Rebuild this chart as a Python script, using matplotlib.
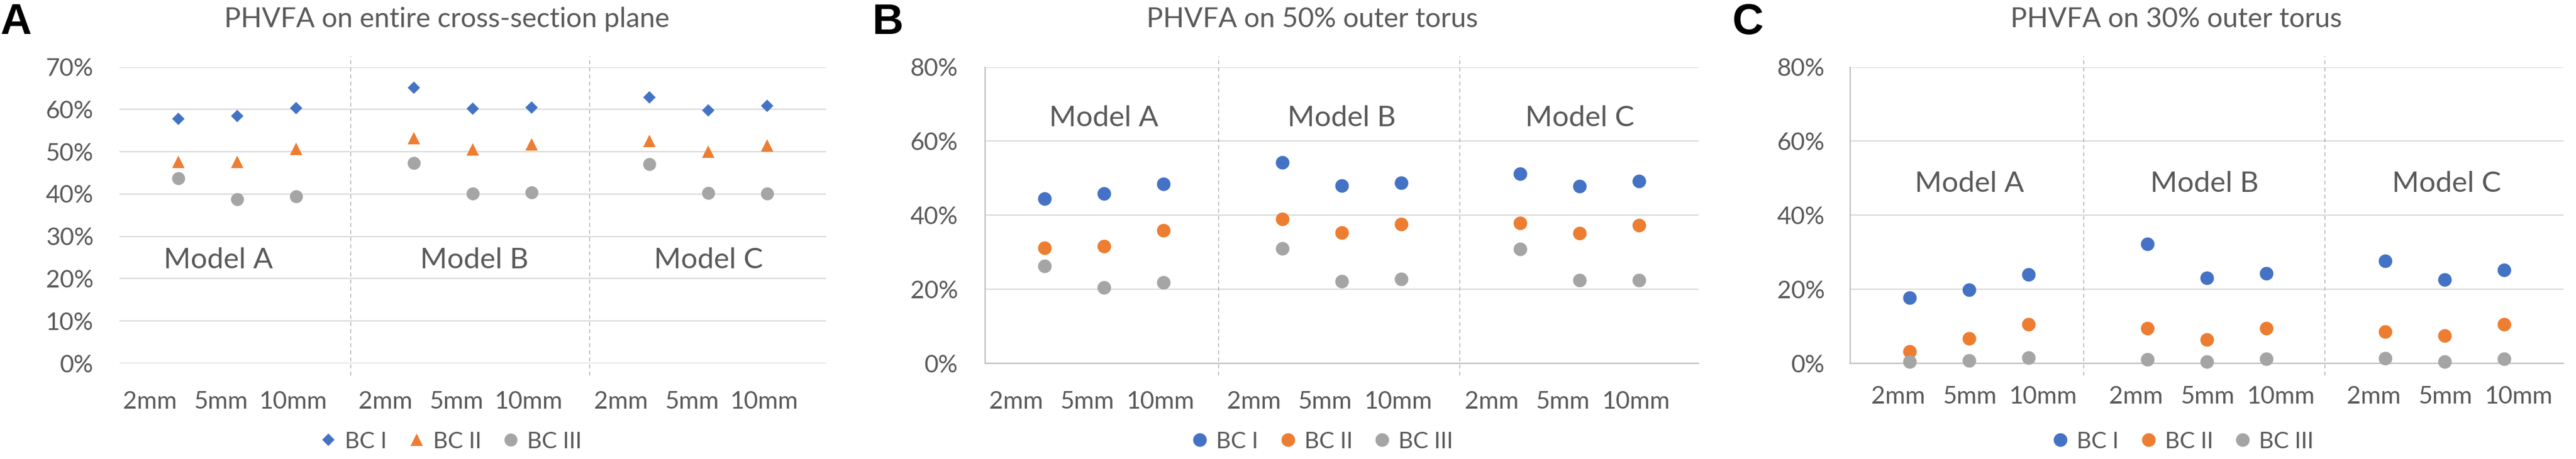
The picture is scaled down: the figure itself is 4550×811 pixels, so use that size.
import matplotlib
matplotlib.use('Agg')
import matplotlib.pyplot as plt
from matplotlib.lines import Line2D
import matplotlib.transforms as mtransforms

plt.rcParams['font.family'] = ['Lato', 'DejaVu Sans']

# ---------------- data ----------------
models = ['Model A', 'Model B', 'Model C']
sizes = ['2mm', '5mm', '10mm']
series_names = ['BC I', 'BC II', 'BC III']

panel_letters = ['A', 'B', 'C']
panel_titles = ['PHVFA on entire cross-section plane',
                'PHVFA on 50% outer torus',
                'PHVFA on 30% outer torus']

# values in %, order: Model A (2,5,10mm), Model B (2,5,10mm), Model C (2,5,10mm)
a_bc1 = [57.7, 58.4, 60.3, 65.1, 60.2, 60.5, 62.8, 59.8, 60.9]
a_bc2 = [47.6, 47.6, 50.7, 53.2, 50.5, 51.8, 52.6, 50.0, 51.5]
a_bc3 = [43.7, 38.8, 39.5, 47.3, 40.1, 40.4, 47.1, 40.3, 40.1]

b_bc1 = [44.4, 45.8, 48.4, 54.3, 48.0, 48.8, 51.2, 47.8, 49.2]
b_bc2 = [31.2, 31.6, 35.9, 38.9, 35.3, 37.6, 37.9, 35.2, 37.3]
b_bc3 = [26.3, 20.5, 21.9, 31.0, 22.1, 22.7, 30.8, 22.5, 22.5]

c_bc1 = [17.8, 19.8, 24.0, 32.3, 23.1, 24.3, 27.7, 22.6, 25.2]
c_bc2 = [3.2, 6.8, 10.5, 9.5, 6.4, 9.5, 8.5, 7.5, 10.5]
c_bc3 = [0.4, 0.7, 1.6, 1.0, 0.4, 1.2, 1.4, 0.4, 1.2]

panel_data = [[a_bc1, a_bc2, a_bc3], [b_bc1, b_bc2, b_bc3], [c_bc1, c_bc2, c_bc3]]
y_max = [70, 80, 80]
y_step = [10, 20, 20]

# ---------------- style ----------------
W, H, DPI = 4550, 811, 100
colors = ['#4472C4', '#ED7D31', '#A5A5A5']
TXT = '#595959'
GRID = '#D9D9D9'
AXC = '#BFBFBF'

markers_A = [('D', 11.5), ('^', 16.5), ('o', 16.5)]
markers_BC = [('o', 17.3), ('o', 17.3), ('o', 17.3)]

# layout in pixels
ax_px = [(211, 1459), (1740, 3000), (3268, 4528)]
top_px, bot_px = 118.5, 642
tick_offsets = [[0.52, 1.72, 2.95], [0.52, 1.72, 2.95], [0.81, 2.01, 3.24]]
tick_pads = [35, 35, 29]
ytick_pads = [33, 34.5, 32.4]
model_x = [[1.68, 6.03, 10.0], [2.0, 6.0, 10.0], [2.0, 5.96, 10.03]]
model_y = [22.5, 64.0, 46.3]
separators = [3.92, 7.98]
title_cx = [789, 2318, 3844]
letter_x = [0, 1541, 3060]
legend_cx = [798, 2337, 3857]

fig = plt.figure(figsize=(W / DPI, H / DPI), dpi=DPI)
fig.patch.set_facecolor('white')

for p in range(3):
    l, r = ax_px[p]
    ax = fig.add_axes([l / W, 1 - bot_px / H, (r - l) / W, (bot_px - top_px) / H])
    ax.set_xlim(0, 12)
    ax.set_ylim(0, y_max[p])
    for s in ax.spines.values():
        s.set_visible(False)
    yt = list(range(0, y_max[p] + 1, y_step[p]))
    ax.set_yticks(yt)
    ax.set_yticklabels([f'{v}%' for v in yt])
    ax.yaxis.grid(True, color=GRID, linewidth=1.6)
    ax.set_axisbelow(True)
    if p > 0:
        for side in ('left', 'bottom'):
            ax.spines[side].set_visible(True)
            ax.spines[side].set_color(AXC)
            ax.spines[side].set_linewidth(1.6)

    # x positions and tick labels
    xs = [4 * g + i + 1 for g in range(3) for i in range(3)]
    tpos = [4 * g + off for g in range(3) for off in tick_offsets[p]]
    ax.set_xticks(tpos)
    ax.set_xticklabels(sizes * 3)
    ax.tick_params(axis='x', length=0, pad=tick_pads[p], labelsize=31, labelcolor=TXT)
    ax.tick_params(axis='y', length=0, pad=ytick_pads[p], labelsize=31, labelcolor=TXT)

    # separators between model groups
    trans = mtransforms.blended_transform_factory(ax.transData, ax.transAxes)
    for sx in separators:
        ax.plot([sx, sx], [-0.04, 1.037], transform=trans, color='#A6A6A6',
                linewidth=1.0, linestyle=(0, (5, 4)), clip_on=False, zorder=1)

    mk = markers_A if p == 0 else markers_BC
    handles = []
    for k, vals in enumerate(panel_data[p]):
        m, ms = mk[k]
        ax.plot(xs, vals, linestyle='none', marker=m, markersize=ms,
                color=colors[k], markeredgewidth=0, zorder=3, clip_on=False)
        handles.append(Line2D([], [], linestyle='none', marker=m, markersize=ms,
                              color=colors[k], markeredgewidth=0, label=series_names[k]))

    for g in range(3):
        ax.text(model_x[p][g], model_y[p], models[g], ha='center', va='baseline',
                fontsize=37, color=TXT)

    fig.text(title_cx[p] / W, 1 - 48 / H, panel_titles[p], ha='center', va='baseline',
             fontsize=35, color=TXT)
    fig.text(letter_x[p] / W, 1 - 60 / H, panel_letters[p], ha='left', va='baseline',
             fontsize=55, fontweight='bold', color='black', family='Liberation Sans')

    fig.legend(handles=handles, loc='center', bbox_to_anchor=(legend_cx[p] / W, 1 - 780 / H),
               ncol=3, frameon=False, fontsize=29, labelcolor=TXT,
               handlelength=0.6, handletextpad=0.42, columnspacing=1.0, borderpad=0)

fig.savefig('out.png', dpi=DPI, facecolor='white')
